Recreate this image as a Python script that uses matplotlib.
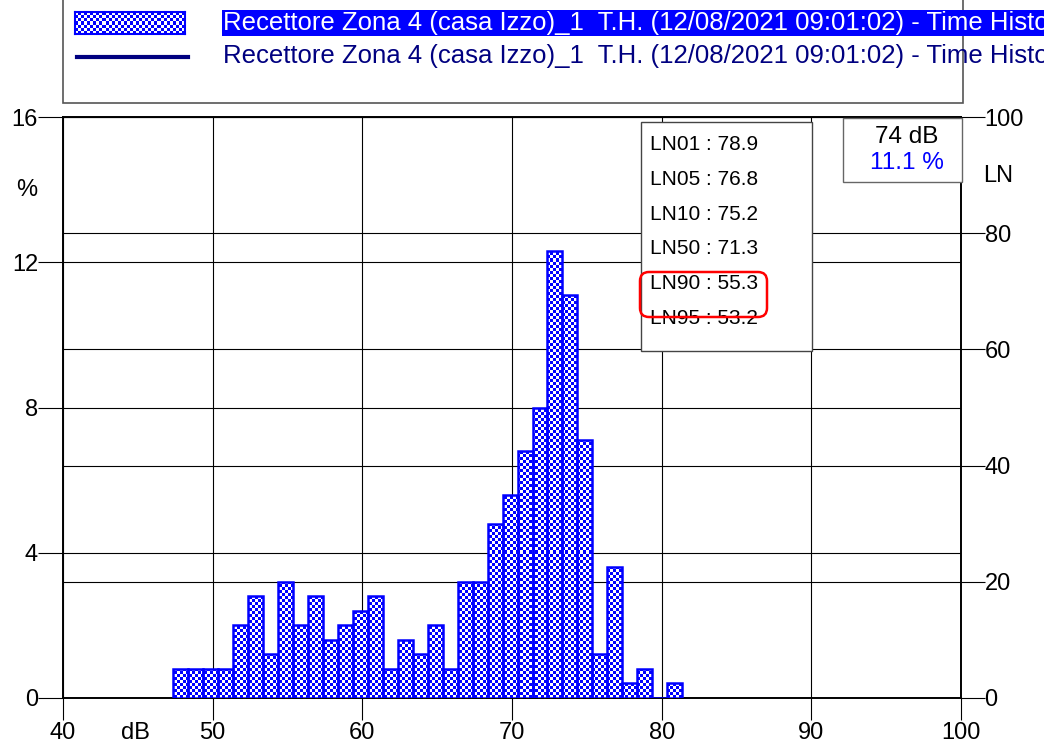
import numpy as np
import matplotlib
matplotlib.use("Agg")
import matplotlib.pyplot as plt
from matplotlib.colors import ListedColormap
from matplotlib.lines import Line2D
from matplotlib.path import Path
from matplotlib.patches import PathPatch, Rectangle, FancyBboxPatch

# level classes (dB) and share of time (%)
classes_db = [48, 49, 50, 51, 52, 53, 54, 55, 56, 57, 58, 59, 60, 61, 62, 63, 64,
              65, 66, 67, 68, 69, 70, 71, 72, 73, 74, 75, 76, 77, 78, 79, 80, 81]
percent = [0.8, 0.8, 0.8, 0.8, 2.0, 2.8, 1.2, 3.2, 2.0, 2.8, 1.6, 2.0, 2.4, 2.8, 0.8, 1.6, 1.2,
           2.0, 0.8, 3.2, 3.2, 4.8, 5.6, 6.8, 8.0, 12.3, 11.1, 7.1, 1.2, 3.6, 0.4, 0.8, 0.0, 0.4]

ln_labels = ["LN01", "LN05", "LN10", "LN50", "LN90", "LN95"]
ln_values = [78.9, 76.8, 75.2, 71.3, 55.3, 53.2]

cursor_db = 74
cursor_pct = 11.1

x_ticks = [40, 50, 60, 70, 80, 90, 100]
left_ticks = [0, 4, 8, 12, 16]
right_ticks = [0, 20, 40, 60, 80, 100]

series_name = "Recettore Zona 4 (casa Izzo)_1  T.H. (12/08/2021 09:01:02) - Time History"

W, H = 1044, 746
BLUE = "#0000ff"
NAVY = "#000080"


def fx(x):
    return x / W


def fy(y):
    return 1 - y / H


def checker(nrows, ncols):
    return np.add.outer(np.arange(nrows), np.arange(ncols)) % 2


plt.rcParams['font.family'] = ['Liberation Sans', 'DejaVu Sans']
check_cmap = ListedColormap(['white', BLUE])

fig = plt.figure(figsize=(W / 100, H / 100), dpi=100)

ax = fig.add_axes([fx(63), fy(698), (961 - 63) / W, (698 - 117) / H])
ax2 = ax.twinx()
ax.set_zorder(2)
ax2.set_zorder(1)
ax.patch.set_visible(False)

# bars: class c drawn over [c-0.63, c+0.37]
left = np.array(classes_db) - 0.63
bars = ax.bar(left, percent, width=1.0, align='edge', facecolor='none',
              edgecolor=BLUE, linewidth=1.8, zorder=4)

# checkered fill clipped to the bar shapes
paths = [b.get_path().transformed(b.get_patch_transform()) for b in bars]
clip = PathPatch(Path.make_compound_path(*paths), transform=ax.transData,
                 facecolor='none', edgecolor='none')
ax.add_patch(clip)
im = ax.imshow(checker(581 // 3, 898 // 3), cmap=check_cmap, extent=(40, 100, 0, 16),
               aspect='auto', interpolation='nearest', origin='lower', zorder=3)
im.set_clip_path(clip)

ax.set_xlim(40, 100)
ax.set_ylim(0, 16)
ax2.set_ylim(0, 100)
ax.set_xticks(x_ticks)
ax.set_yticks(left_ticks)
ax2.set_yticks(right_ticks)

ax.grid(True, color='black', linewidth=0.8)
ax2.grid(True, axis='y', color='black', linewidth=0.8)
ax.set_axisbelow(True)

ax.tick_params(axis='x', direction='out', length=16, width=0.8, pad=1, labelsize=17)
ax.tick_params(axis='y', direction='out', length=18, width=0.8, pad=0, labelsize=17)
ax2.tick_params(axis='y', direction='out', length=17, width=0.8, pad=0, labelsize=17)
for a in (ax, ax2):
    for s in a.spines.values():
        s.set_linewidth(1.2)

# axis captions
fig.text(fx(27), fy(190), "%", fontsize=17, ha='center', va='center')
fig.text(fx(998), fy(176), "LN", fontsize=17, ha='center', va='center')
fig.text(fx(135), fy(733), "dB", fontsize=17, ha='center', va='center')

# legend block
fig.add_artist(Rectangle((fx(63), fy(103)), (963 - 63) / W, 110 / H, facecolor='white',
                         edgecolor='#555555', linewidth=1.2, zorder=5))
fig.add_artist(Rectangle((fx(222), fy(36)), (W - 222) / W, 26 / H, facecolor=BLUE,
                         edgecolor='none', zorder=6))
fig.text(fx(223), fy(23), series_name, color='white', fontsize=18.5, va='center', zorder=7)
fig.text(fx(223), fy(56), series_name, color=NAVY, fontsize=18.5, va='center', zorder=7)
hax = fig.add_axes([fx(75), fy(34), 110 / W, 22 / H])
hax.set_zorder(8)
hax.imshow(checker(22 // 3, 110 // 3), cmap=check_cmap, aspect='auto', interpolation='nearest')
hax.set_xticks([])
hax.set_yticks([])
for s in hax.spines.values():
    s.set_color(BLUE)
    s.set_linewidth(1.5)
fig.add_artist(Line2D([fx(77), fx(188)], [fy(57), fy(57)], color=NAVY, linewidth=3, zorder=7))

# LN statistics box
fig.add_artist(Rectangle((fx(641), fy(351)), (812 - 641) / W, (351 - 122) / H,
                         facecolor='white', edgecolor='#444444', linewidth=1, zorder=10))
for i, (lab, val) in enumerate(zip(ln_labels, ln_values)):
    fig.text(fx(650), fy(145 + 34.6 * i), f"{lab} : {val:.1f}", fontsize=15,
             va='center', ha='left', zorder=11)
fig.add_artist(FancyBboxPatch((640 / 100, (H - 317) / 100), 127 / 100, 45 / 100,
                              boxstyle='round,pad=0,rounding_size=0.09',
                              transform=fig.dpi_scale_trans, facecolor='none',
                              edgecolor='#ff0000', linewidth=1.8, zorder=12))

# cursor box
fig.add_artist(Rectangle((fx(843), fy(182)), (962 - 843) / W, (182 - 118) / H,
                         facecolor='white', edgecolor='#666666', linewidth=1, zorder=10))
fig.text(fx(907), fy(137), f"{cursor_db} dB", fontsize=17.5, ha='center', va='center', zorder=11)
fig.text(fx(907), fy(163), f"{cursor_pct:.1f} %", fontsize=17.5, color=BLUE,
         ha='center', va='center', zorder=11)

fig.savefig("out.png", dpi=100)
